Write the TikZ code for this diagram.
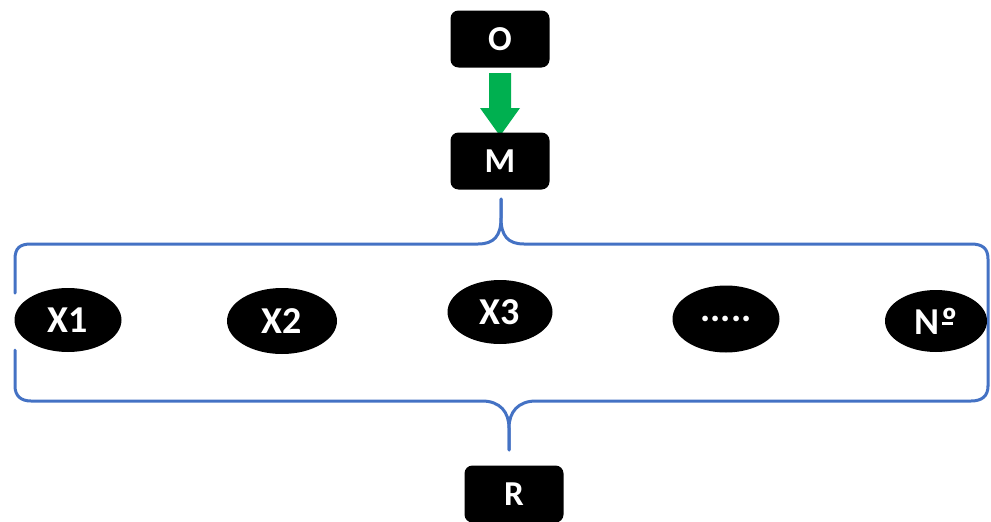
\documentclass[tikz,border=0pt]{standalone}
\usepackage{fontspec}
\setmainfont{Carlito}
\usetikzlibrary{calc,shapes.geometric}
\definecolor{braceblue}{HTML}{4472C4}
\definecolor{arrowgreen}{HTML}{00B050}
\tikzset{
  blackbox/.style={fill=black, rounded corners=8pt, minimum width=99pt, minimum height=57pt, inner sep=0pt, text=white, font=\fontsize{35}{35}\selectfont\bfseries},
  blackoval/.style={ellipse, fill=black, inner sep=0pt, text=white, font=\fontsize{38}{38}\selectfont\bfseries},
  bracelinestyle/.style={draw=braceblue, line width=3pt, line cap=round, line join=round},
  bigarrow/.style={fill=arrowgreen, draw=none}
}
\newcommand{\ordmark}{N\kern0.04em\rlap{\kern0.02em\rule[0.24em]{0.3em}{0.07em}}º}
\begin{document}
\begin{tikzpicture}[x=1pt,y=-1pt]
\useasboundingbox (0,0) rectangle (991,522);
% nodes
\node[blackbox] (O) at (500,39) {O};
% green arrow
\coordinate (atop) at (500,73);
\coordinate (atip) at (500,136);
\fill[bigarrow] ($(atop)+(-11,0)$) -- ($(atop)+(11,0)$) -- ($(atop)+(11,35)$) -- ($(atop)+(20,35)$) -- (atip) -- ($(atop)+(-20,35)$) -- ($(atop)+(-11,35)$) -- cycle;
\node[blackbox] (M) at (500,161) {M};
\node[blackbox] (R) at (514,494) {R};
% braces
\coordinate (topcusp) at (501,199);
\coordinate (botcusp) at (509,450);
\draw[bracelinestyle] (15,293) -- (15,259) .. controls (15,248) and (20,244) .. (31,244)
  -- (478,244) .. controls (494,244) and (501,236) .. (501,218) -- (topcusp);
\draw[bracelinestyle] (topcusp) -- (501,218) .. controls (501,236) and (508,244) .. (524,244)
  -- (971,244) .. controls (982,244) and (988,248) .. (988,259) -- (988,386);
\draw[bracelinestyle] (15,350) -- (15,386) .. controls (15,396) and (21,401) .. (31,401)
  -- (482,401) .. controls (500,401) and (509,412) .. (509,428) -- (botcusp);
\draw[bracelinestyle] (botcusp) -- (509,428) .. controls (509,412) and (518,401) .. (536,401)
  -- (971,401) .. controls (982,401) and (988,396) .. (988,386);
% ovals
\node[blackoval, minimum width=107pt, minimum height=64pt] (x1) at (68,320) {X1};
\node[blackoval, minimum width=110pt, minimum height=66pt] (x2) at (282,321) {X2};
\node[blackoval, minimum width=105pt, minimum height=64pt] (x3) at (500,312) {X3};
\node[blackoval, minimum width=107pt, minimum height=67pt] (x4) at (726,319) {.....};
\node[blackoval, minimum width=102pt, minimum height=62pt] (x5) at (936,321) {\ordmark};
\end{tikzpicture}
\end{document}
